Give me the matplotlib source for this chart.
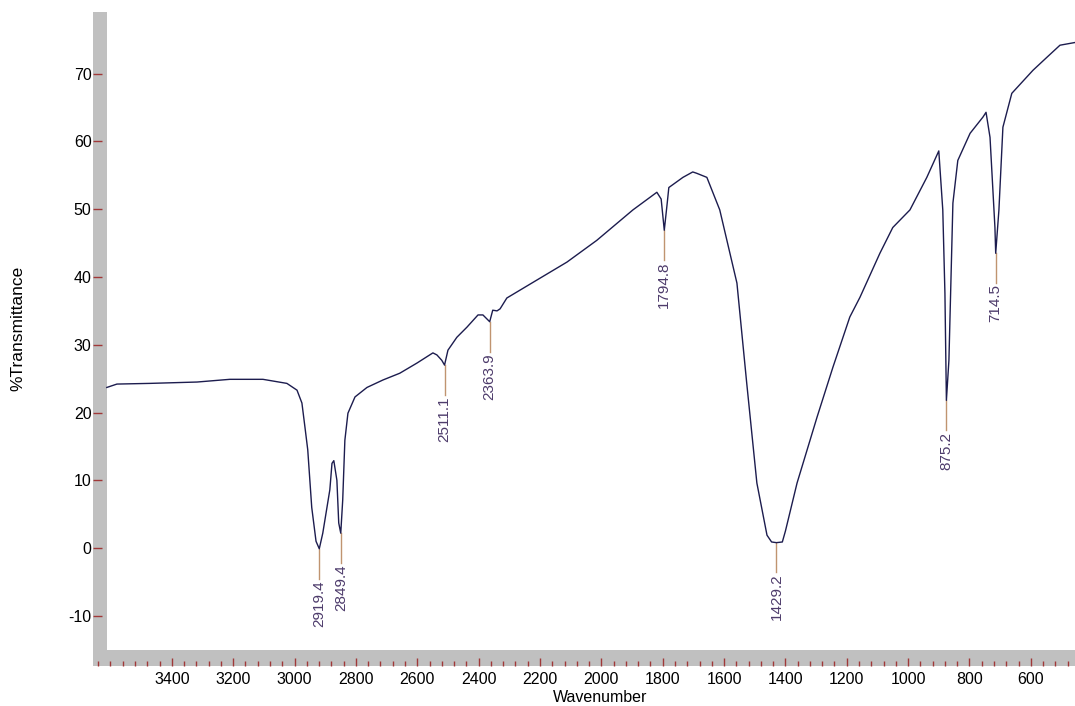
import matplotlib
matplotlib.use('Agg')
import matplotlib.pyplot as plt
from matplotlib.patches import Rectangle
from matplotlib.ticker import MultipleLocator

plt.rcParams['font.family'] = ['Liberation Sans', 'DejaVu Sans']
plt.rcParams['axes.unicode_minus'] = False

# spectrum
wavenumber = [3612, 3579, 3472, 3318, 3211, 3103, 3025, 2992, 2976, 2966, 2957, 2944, 2930,
              2919.4, 2908, 2885, 2878, 2872, 2862, 2856, 2849.4, 2843, 2836, 2826, 2803,
              2764, 2712, 2657, 2601, 2549, 2536, 2520, 2511.1, 2500, 2471, 2438, 2402,
              2386, 2363.9, 2354, 2340, 2330, 2308, 2223, 2112, 2015, 1897, 1819, 1805,
              1794.8, 1785, 1780, 1734, 1702, 1689, 1656, 1614, 1558, 1526, 1493, 1460,
              1445, 1429.2, 1410, 1400, 1362, 1297, 1245, 1190, 1157, 1092, 1050, 994,
              939, 900, 887, 880, 875.2, 867, 854, 838, 798, 756, 746, 733, 717, 714.5,
              704, 691, 662, 593, 548, 505, 456]
transmittance = [23.7, 24.2, 24.3, 24.5, 24.9, 24.9, 24.3, 23.3, 21.4, 17.8, 14.5, 6.0, 1.0,
                 -0.1, 2.2, 8.6, 12.5, 12.9, 10.0, 3.7, 2.2, 7.1, 15.9, 19.9, 22.3,
                 23.7, 24.8, 25.8, 27.3, 28.8, 28.5, 27.7, 27.0, 29.2, 31.1, 32.6, 34.4,
                 34.4, 33.4, 35.1, 35.0, 35.3, 36.9, 39.2, 42.2, 45.4, 49.9, 52.5, 51.5,
                 46.9, 51.0, 53.2, 54.7, 55.5, 55.3, 54.7, 49.9, 39.1, 24.3, 9.6, 1.9,
                 0.9, 0.8, 0.9, 2.5, 9.6, 19.3, 26.7, 34.1, 37.0, 43.5, 47.3, 49.9,
                 54.7, 58.6, 49.9, 37.6, 21.8, 27.7, 50.9, 57.2, 61.2, 63.6, 64.3, 60.6, 47.3, 43.5,
                 49.9, 62.1, 67.1, 70.5, 72.4, 74.2, 74.6]

peak_wn = [2919.4, 2849.4, 2511.1, 2363.9, 1794.8, 1429.2, 875.2, 714.5]
peak_t = [-0.1, 2.2, 27.0, 33.4, 46.9, 0.8, 21.8, 43.5]
peak_labels = ['2919.4', '2849.4', '2511.1', '2363.9', '1794.8', '1429.2', '875.2', '714.5']

fig = plt.figure(figsize=(10.75, 7.06), dpi=100)
ax = fig.add_axes([93 / 1075, 40 / 706, 982 / 1075, 654 / 706])

ax.plot(wavenumber, transmittance, color='#1c1c4e', linewidth=1.0, zorder=3)

for w, t, lab in zip(peak_wn, peak_t, peak_labels):
    ax.plot([w, w], [t, t - 4.4], color='#c09470', linewidth=1.0, zorder=2)
    ax.text(w, t - 4.6, lab, rotation=90, ha='center', va='top',
            fontsize=11, color='#4d3b6b')

ax.set_xlim(3657, 456)
ax.set_ylim(-17.4, 79.1)

# gray frame bands
ax.add_patch(Rectangle((0, 0), 14 / 982, 1, transform=ax.transAxes,
                       facecolor='#c0c0c0', edgecolor='none', zorder=1))
ax.add_patch(Rectangle((0, 0), 1, 16 / 654, transform=ax.transAxes,
                       facecolor='#c0c0c0', edgecolor='none', zorder=1))
for s in ax.spines.values():
    s.set_visible(False)

ax.set_yticks([-10, 0, 10, 20, 30, 40, 50, 60, 70])
ax.set_xticks([3400, 3200, 3000, 2800, 2600, 2400, 2200, 2000, 1800, 1600, 1400,
               1200, 1000, 800, 600])
ax.xaxis.set_minor_locator(MultipleLocator(40))
ax.tick_params(axis='y', direction='in', length=6.5, width=1, color='#a03838',
               labelsize=11.5, pad=1)
ax.tick_params(axis='x', which='major', direction='in', length=6, width=1,
               color='#a03838', labelsize=11.5, pad=4)
ax.tick_params(axis='x', which='minor', direction='in', length=3.5, width=1,
               color='#a03838')

fig.text(600 / 1075, 1 - 697 / 706, 'Wavenumber', ha='center', va='center', fontsize=11.5)
fig.text(18 / 1075, 1 - 328 / 706, '%Transmittance', ha='center', va='center',
         rotation=90, fontsize=12.5)

fig.savefig('out.png', dpi=100)
